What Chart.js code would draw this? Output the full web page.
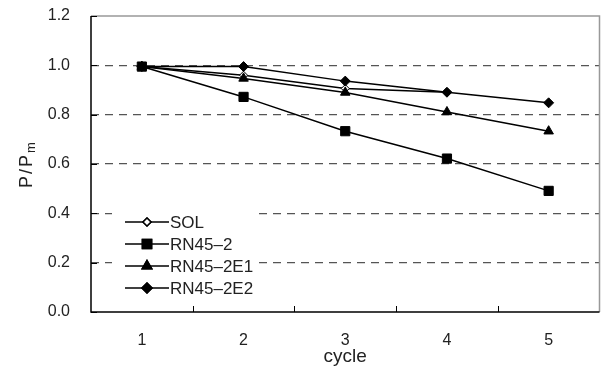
<!DOCTYPE html>
<html>
<head>
<meta charset="utf-8">
<script src="https://cdn.jsdelivr.net/npm/chart.js@4.4.1/dist/chart.umd.min.js"></script>
<style>
  html, body { margin: 0; padding: 0; background: #fff; }
  #wrap { width: 607px; height: 372px; }
</style>
</head>
<body>
<div id="wrap"><canvas id="chart" width="607" height="372"></canvas></div>
<script>
const cycles = ['1', '2', '3', '4', '5'];
const sol = [0.995, 0.96, 0.906, 0.891, null];
const rn45_2 = [0.995, 0.872, 0.733, 0.622, 0.491];
const rn45_2e1 = [0.995, 0.947, 0.89, 0.811, 0.733];
const rn45_2e2 = [0.995, 0.995, 0.936, 0.891, 0.848];
const yTicks = [0, 0.2, 0.4, 0.6, 0.8, 1.0, 1.2];

const FONT = '"Liberation Sans", Arial, sans-serif';
const TEXT = '#222';

// line + marker swatch for the legend
function swatch(style, radius, fill) {
  const c = document.createElement('canvas');
  c.width = 44; c.height = 16;
  const ctx = c.getContext('2d');
  ctx.strokeStyle = '#000';
  ctx.lineWidth = 1.5;
  ctx.beginPath();
  ctx.moveTo(0, 8); ctx.lineTo(44, 8);
  ctx.stroke();
  Chart.helpers.drawPoint(ctx, { pointStyle: style, radius: radius, borderWidth: 1 }, 22, 8);
  ctx.fillStyle = fill;
  ctx.fill();
  ctx.stroke();
  return c;
}

const series = [
  { label: 'SOL', data: sol, style: 'rectRot', radius: 4, fill: '#fff', order: 3 },
  { label: 'RN45\u20132', data: rn45_2, style: 'rect', radius: 6.5, fill: '#000', order: 2 },
  { label: 'RN45\u20132E1', data: rn45_2e1, style: 'triangle', radius: 5.5, fill: '#000', order: 1 },
  { label: 'RN45\u20132E2', data: rn45_2e2, style: 'rectRot', radius: 5, fill: '#000', order: 0 }
];

const extras = {
  id: 'extras',
  beforeDatasetsDraw(chart) {
    const { ctx, chartArea: a, scales: { x, y } } = chart;
    ctx.save();
    // gray top/right frame
    ctx.strokeStyle = '#999';
    ctx.lineWidth = 1.5;
    ctx.beginPath();
    ctx.moveTo(a.left, a.top); ctx.lineTo(a.right, a.top); ctx.lineTo(a.right, a.bottom);
    ctx.stroke();
    // black left/bottom axes
    ctx.strokeStyle = '#000';
    ctx.beginPath();
    ctx.moveTo(a.left, a.top); ctx.lineTo(a.left, a.bottom); ctx.lineTo(a.right, a.bottom);
    ctx.stroke();
    // inward ticks
    ctx.lineWidth = 1;
    ctx.beginPath();
    yTicks.forEach(v => {
      const py = Math.round(y.getPixelForValue(v)) + 0.5;
      ctx.moveTo(a.left, py); ctx.lineTo(a.left + 6, py);
    });
    for (let i = 0; i < cycles.length - 1; i++) {
      const px = Math.round((x.getPixelForTick(i) + x.getPixelForTick(i + 1)) / 2) + 0.5;
      ctx.moveTo(px, a.bottom); ctx.lineTo(px, a.bottom - 6);
    }
    ctx.stroke();
    ctx.restore();
  },
  afterDatasetsDraw(chart) {
    const { ctx, chartArea: a } = chart;
    ctx.save();
    // legend inside plot, lower left
    const lx = 112, ly = 212, lw = 145, lh = 87;
    ctx.fillStyle = '#fff';
    ctx.fillRect(lx, ly, lw, lh);
    ctx.font = '17px ' + FONT;
    ctx.textBaseline = 'middle';
    series.forEach((s, i) => {
      const cy = 222 + i * 22;
      ctx.drawImage(swatch(s.style, s.radius, s.fill), 125, cy - 8);
      ctx.fillStyle = TEXT;
      ctx.fillText(s.label, 170, cy + 1);
    });
    // y axis title with subscript
    ctx.translate(26, (a.top + a.bottom) / 2);
    ctx.rotate(-Math.PI / 2);
    ctx.fillStyle = TEXT;
    ctx.letterSpacing = '2px';
    const main = 'P/P';
    ctx.font = '18px ' + FONT;
    const w1 = ctx.measureText(main).width;
    ctx.font = '13px ' + FONT;
    const w2 = ctx.measureText('m').width;
    const start = -(w1 + w2) / 2;
    ctx.textBaseline = 'alphabetic';
    ctx.font = '18px ' + FONT;
    ctx.fillText(main, start, 6);
    ctx.font = '13px ' + FONT;
    ctx.fillText('m', start + w1, 9);
    ctx.restore();
  }
};

new Chart(document.getElementById('chart'), {
  type: 'line',
  data: {
    labels: cycles,
    datasets: series.map(s => ({
      label: s.label,
      data: s.data,
      order: s.order,
      borderColor: '#000',
      borderWidth: 1.5,
      pointStyle: s.style,
      pointRadius: s.radius,
      pointBackgroundColor: s.fill,
      pointBorderColor: '#000',
      pointBorderWidth: 1,
      tension: 0,
      spanGaps: false
    }))
  },
  options: {
    responsive: false,
    animation: false,
    layout: { padding: { top: 16, right: 7, left: 0, bottom: 0 } },
    plugins: {
      legend: { display: false },
      tooltip: { enabled: false }
    },
    scales: {
      x: {
        type: 'category',
        offset: true,
        grid: { display: false, drawTicks: false },
        border: { display: false },
        ticks: { color: TEXT, font: { family: FONT, size: 16 }, padding: 19 },
        title: { display: true, text: 'cycle', color: TEXT, font: { family: FONT, size: 19 }, padding: { top: 0 } },
        afterFit(scale) {
          scale.height = 60;
          scale.paddingLeft = 0; scale.paddingRight = 0;
        }
      },
      y: {
        min: 0,
        max: 1.2,
        afterBuildTicks(scale) { scale.ticks = yTicks.map(v => ({ value: v })); },
        grid: {
          drawTicks: false,
          color: ctx => (ctx.tick && (ctx.tick.value === 0 || Math.abs(ctx.tick.value - 1.2) < 1e-6)) ? 'rgba(0,0,0,0)' : '#555',
          lineWidth: 1.2
        },
        border: { display: false, dash: [8, 6] },
        ticks: {
          color: TEXT,
          font: { family: FONT, size: 16 },
          padding: 21,
          callback: v => Number(v).toFixed(1)
        },
        afterFit(scale) {
          scale.width = 91;
          scale.paddingTop = 0; scale.paddingBottom = 0;
        }
      }
    }
  },
  plugins: [extras]
});
</script>
</body>
</html>
